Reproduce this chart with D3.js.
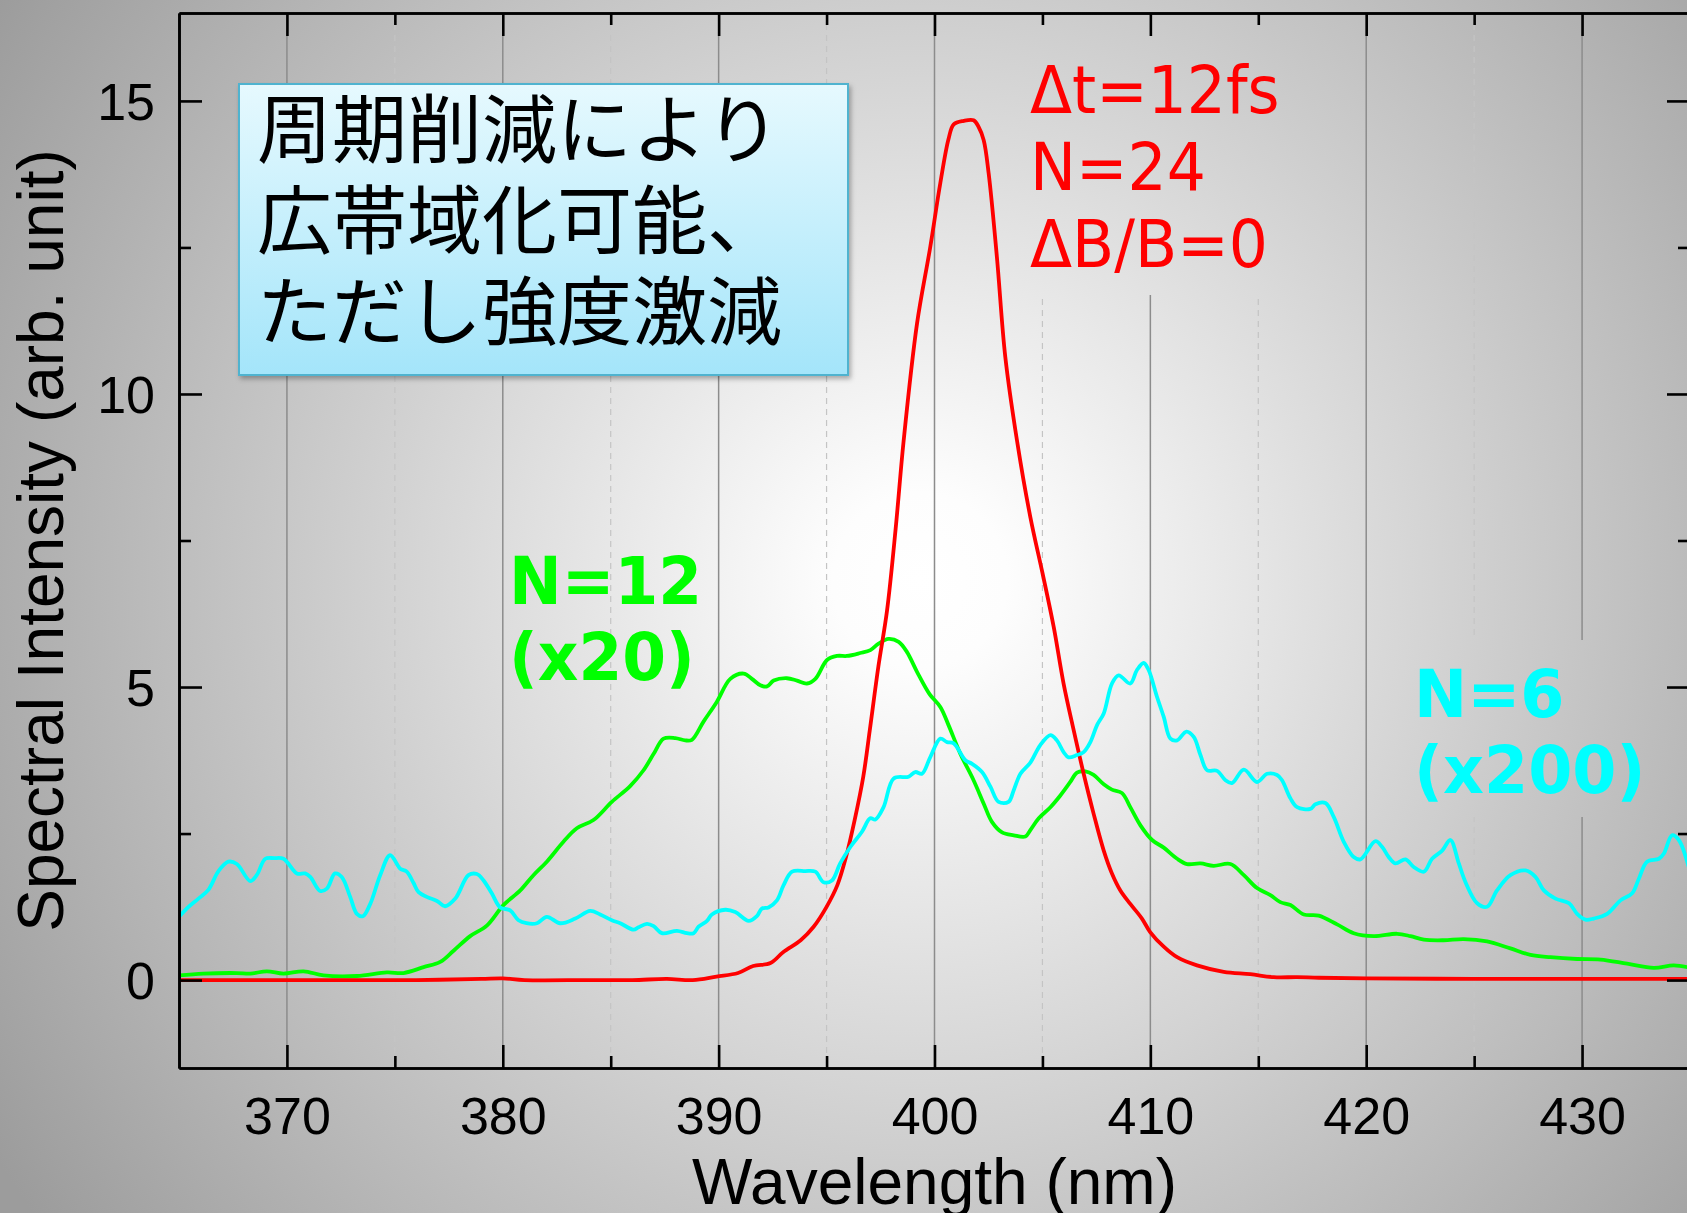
<!DOCTYPE html>
<html>
<head>
<meta charset="utf-8">
<script src="https://cdn.jsdelivr.net/npm/d3@7"></script>
<style>
  html, body { margin: 0; padding: 0; background: #a8a8a8; }
  svg { display: block; }
</style>
</head>
<body>
<svg id="chart" width="1687" height="1213"></svg>
<script>
// ---- data: spectra as [wavelength (nm), intensity (arb. unit)] ----
const spectrumN24 = [
  [365, 0.0], [367, 0.0], [370, 0.0], [373, 0.0], [376, 0.0], [379, 0.02], [380, 0.03],
  [381, 0.0], [384, 0.0], [386, 0.0], [387.6, 0.02], [388.8, 0.0], [389.9, 0.06],
  [390.9, 0.12], [391.6, 0.24], [392.4, 0.29], [393.0, 0.48], [393.8, 0.68], [394.4, 0.91],
  [395.0, 1.25], [395.5, 1.62], [395.9, 2.10], [396.3, 2.73], [396.7, 3.47], [397.0, 4.26],
  [397.4, 5.35], [397.8, 6.3], [398.2, 7.7], [398.57, 9.2], [399.19, 11.2], [399.8, 12.5],
  [400.27, 13.6], [400.65, 14.35], [400.89, 14.6], [401.35, 14.66], [401.81, 14.67],
  [402.04, 14.56], [402.28, 14.33], [402.51, 13.76], [402.89, 12.34], [403.28, 10.63],
  [403.82, 9.21], [404.44, 7.9], [405.0, 6.95], [405.52, 6.03], [405.98, 5.06],
  [406.45, 4.26], [406.91, 3.52], [407.37, 2.84], [407.84, 2.21], [408.22, 1.82],
  [408.61, 1.53], [409.07, 1.30], [409.61, 1.05], [409.99, 0.82], [410.62, 0.57],
  [411.24, 0.39], [412.16, 0.25], [413.4, 0.14], [414.63, 0.10], [415.71, 0.05],
  [416.8, 0.05], [417.8, 0.04], [420, 0.03], [425, 0.02], [430, 0.02], [435, 0.02]
];

const spectrumN12 = [
  [365, 0.08], [366.13, 0.11], [367.68, 0.12], [368.3, 0.11], [369.07, 0.15], [369.84, 0.11],
  [370.77, 0.15], [371.69, 0.08], [373.24, 0.07], [374.63, 0.13], [375.4, 0.12], [376.33, 0.22],
  [377.1, 0.31], [377.72, 0.50], [378.49, 0.75], [379.26, 0.93], [380.03, 1.28], [380.81, 1.53],
  [381.42, 1.79], [382.04, 2.02], [382.81, 2.36], [383.43, 2.59], [384.2, 2.73], [385.05, 3.04],
  [385.9, 3.31], [386.52, 3.58], [386.99, 3.86], [387.45, 4.12], [387.99, 4.13], [388.45, 4.09],
  [388.76, 4.10], [389.3, 4.41], [389.92, 4.75], [390.54, 5.14], [391.16, 5.23], [391.54, 5.14],
  [391.93, 5.03], [392.24, 5.01], [392.55, 5.11], [393.16, 5.15], [393.63, 5.11], [394.09, 5.06],
  [394.48, 5.14], [395.02, 5.46], [395.48, 5.53], [395.94, 5.53], [396.56, 5.58], [397.03, 5.63],
  [397.41, 5.74], [397.87, 5.82], [398.34, 5.77], [398.72, 5.60], [399.19, 5.26], [399.77, 4.88],
  [400.27, 4.66], [400.65, 4.35], [401.2, 3.86], [401.81, 3.41], [402.28, 3.01], [402.66, 2.70],
  [403.13, 2.52], [403.67, 2.47], [404.21, 2.45], [404.44, 2.56], [404.83, 2.76], [405.37, 2.95],
  [405.83, 3.15], [406.29, 3.38], [406.6, 3.54], [406.99, 3.56], [407.37, 3.50], [407.84, 3.34],
  [408.22, 3.25], [408.69, 3.19], [409.07, 2.95], [409.54, 2.64], [410.08, 2.39], [410.62, 2.26],
  [411.24, 2.07], [411.7, 1.98], [412.32, 1.99], [412.93, 1.95], [413.71, 1.98], [414.33, 1.79],
  [414.94, 1.57], [415.56, 1.45], [416.02, 1.33], [416.49, 1.28], [417.11, 1.12], [417.8, 1.10],
  [418.65, 0.95], [419.42, 0.80], [420.35, 0.75], [421.43, 0.79], [422.05, 0.75], [422.67, 0.69],
  [423.59, 0.68], [424.52, 0.70], [425.6, 0.66], [426.68, 0.54], [427.61, 0.43], [428.54, 0.39],
  [429.77, 0.36], [430.85, 0.35], [432.09, 0.28], [433.32, 0.21], [434.25, 0.25], [435, 0.21]
];

const spectrumN6 = [
  [365, 1.08], [365.44, 1.25], [365.9, 1.39], [366.36, 1.54], [366.83, 1.86], [367.29, 2.02],
  [367.68, 1.98], [368.3, 1.69], [368.6, 1.79], [369.0, 2.07], [369.4, 2.08], [369.84, 2.07],
  [370.46, 1.82], [370.84, 1.82], [371.08, 1.76], [371.54, 1.52], [371.85, 1.56], [372.23, 1.82],
  [372.54, 1.76], [372.93, 1.42], [373.24, 1.13], [373.52, 1.09], [373.86, 1.30], [374.32, 1.79],
  [374.78, 2.13], [375.25, 1.90], [375.55, 1.85], [375.86, 1.66], [376.1, 1.50], [376.48, 1.42],
  [376.95, 1.35], [377.33, 1.26], [377.8, 1.39], [378.41, 1.79], [378.8, 1.81], [379.11, 1.70],
  [379.49, 1.48], [379.88, 1.24], [380.34, 1.19], [380.73, 1.02], [381.1, 0.97], [381.58, 0.97],
  [382.04, 1.08], [382.66, 0.97], [383.36, 1.05], [384.05, 1.18], [384.51, 1.12], [385.05, 1.02],
  [385.44, 0.97], [386.06, 0.86], [386.29, 0.90], [386.68, 0.96], [386.99, 0.92], [387.37, 0.80],
  [388.07, 0.84], [388.53, 0.80], [388.84, 0.80], [389.07, 0.91], [389.46, 1.01], [389.69, 1.12],
  [390.31, 1.20], [390.77, 1.16], [391.39, 1.01], [391.77, 1.09], [392.0, 1.22], [392.31, 1.24],
  [392.7, 1.36], [393.01, 1.62], [393.4, 1.85], [394.01, 1.86], [394.48, 1.85], [394.86, 1.67],
  [395.25, 1.70], [395.63, 1.99], [396.1, 2.27], [396.64, 2.53], [397.02, 2.76], [397.26, 2.74],
  [397.64, 2.95], [398.11, 3.44], [398.8, 3.47], [399.11, 3.55], [399.42, 3.52], [399.8, 3.80],
  [400.27, 4.12], [400.58, 4.06], [400.89, 4.04], [401.43, 3.75], [401.74, 3.69], [402.2, 3.55],
  [402.59, 3.30], [402.97, 3.04], [403.43, 3.04], [403.67, 3.24], [403.98, 3.52], [404.44, 3.71],
  [404.9, 4.01], [405.37, 4.18], [405.67, 4.09], [405.98, 3.89], [406.21, 3.80], [406.6, 3.84],
  [406.91, 3.89], [407.22, 4.06], [407.53, 4.35], [407.84, 4.55], [408.22, 5.06], [408.53, 5.20],
  [409.07, 5.06], [409.38, 5.29], [409.69, 5.41], [409.92, 5.29], [410.31, 4.83], [410.62, 4.49],
  [410.93, 4.12], [411.24, 4.09], [411.67, 4.24], [412.01, 4.15], [412.32, 3.84], [412.63, 3.58],
  [413.09, 3.57], [413.48, 3.41], [413.78, 3.36], [414.33, 3.59], [414.94, 3.38], [415.41, 3.52],
  [415.87, 3.50], [416.1, 3.41], [416.49, 3.10], [416.8, 2.95], [417.41, 2.92], [417.65, 3.00],
  [418.11, 3.02], [418.5, 2.78], [418.96, 2.36], [419.42, 2.10], [419.73, 2.06], [420.43, 2.37],
  [420.74, 2.27], [421.04, 2.10], [421.35, 1.99], [421.82, 2.06], [422.2, 1.93], [422.67, 1.85],
  [423.05, 2.07], [423.52, 2.21], [423.9, 2.39], [424.29, 1.99], [424.6, 1.67], [425.14, 1.31],
  [425.6, 1.25], [426.06, 1.53], [426.68, 1.79], [427.38, 1.87], [427.84, 1.76], [428.23, 1.53],
  [428.77, 1.39], [429.4, 1.31], [429.77, 1.13], [430.16, 1.03], [430.54, 1.05], [431.16, 1.13],
  [431.78, 1.36], [432.32, 1.48], [432.63, 1.73], [433.01, 2.02], [433.56, 2.07], [433.79, 2.16],
  [434.17, 2.47], [434.48, 2.39], [435, 1.85]
];

// ---- axes: domains and tick values ----
const xDomain = [365, 435];
const yDomain = [-1.5, 16.5];
const xMajorTicks = [370, 380, 390, 400, 410, 420, 430];
const xMinorTicks = [375, 385, 395, 405, 415, 425];
const yMajorTicks = [0, 5, 10, 15];
const yMinorTicks = [2.5, 7.5, 12.5];

// ---- annotation text ----
const noteLines = ["周期削減により", "広帯域化可能、", "ただし強度激減"];
const labelN24 = ["Δt=12fs", "N=24", "ΔB/B=0"];
const labelN12 = ["N=12", "(x20)"];
const labelN6 = ["N=6", "(x200)"];
const xTitle = "Wavelength (nm)";
const yTitle = "Spectral Intensity (arb. unit)";

// ---- layout ----
const W = 1687, H = 1213;
const plot = { left: 179, right: 1690, top: 13, bottom: 1068 };

const svg = d3.select("#chart");
const defs = svg.append("defs");

// page background: soft radial gray gradient
const bg = defs.append("radialGradient").attr("id", "bgGrad")
  .attr("gradientUnits", "userSpaceOnUse")
  .attr("cx", 920).attr("cy", 580).attr("r", 1090);
bg.append("stop").attr("offset", 0).attr("stop-color", "#ffffff");
bg.append("stop").attr("offset", 0.08).attr("stop-color", "#fdfdfd");
bg.append("stop").attr("offset", 1).attr("stop-color", "#9c9c9c");

// note box fill
const boxGrad = defs.append("linearGradient").attr("id", "boxGrad")
  .attr("x1", 0).attr("y1", 0).attr("x2", 0).attr("y2", 1);
boxGrad.append("stop").attr("offset", 0).attr("stop-color", "#e6f9fe");
boxGrad.append("stop").attr("offset", 1).attr("stop-color", "#a4e5fa");

const shadow = defs.append("filter").attr("id", "boxShadow")
  .attr("x", "-5%").attr("y", "-5%").attr("width", "115%").attr("height", "120%");
shadow.append("feDropShadow").attr("dx", 2).attr("dy", 3).attr("stdDeviation", 2.5)
  .attr("flood-color", "#000").attr("flood-opacity", 0.3);

defs.append("clipPath").attr("id", "plotClip").append("rect")
  .attr("x", plot.left).attr("y", plot.top)
  .attr("width", plot.right - plot.left).attr("height", plot.bottom - plot.top);

svg.append("rect").attr("width", W).attr("height", H).attr("fill", "url(#bgGrad)");

const x = d3.scaleLinear().domain(xDomain).range([plot.left, plot.right]);
const y = d3.scaleLinear().domain(yDomain).range([plot.bottom, plot.top]);

// ---- grid ----
const grid = svg.append("g");
grid.selectAll("line.major").data(xMajorTicks).join("line")
  .attr("class", "major")
  .attr("x1", d => x(d)).attr("x2", d => x(d))
  .attr("y1", plot.top).attr("y2", plot.bottom)
  .attr("stroke", "#8c8c8c").attr("stroke-width", 1.5);
grid.selectAll("line.minor").data(xMinorTicks).join("line")
  .attr("class", "minor")
  .attr("x1", d => x(d)).attr("x2", d => x(d))
  .attr("y1", plot.top).attr("y2", plot.bottom)
  .attr("stroke", "#c4c4c4").attr("stroke-width", 1.2)
  .attr("stroke-dasharray", "6,5");

// labels sit on a patch of the page background so grid lines stop behind them
const patches = svg.append("g");
patches.append("rect").attr("x", 1026).attr("y", plot.top + 2).attr("width", 262).attr("height", 280)
  .attr("fill", "url(#bgGrad)");
patches.append("rect").attr("x", 1408).attr("y", 640).attr("width", 245).attr("height", 177)
  .attr("fill", "url(#bgGrad)");

// ---- spectra ----
const line = d3.line().x(d => x(d[0])).y(d => y(d[1])).curve(d3.curveCatmullRom.alpha(0.5));
const curves = svg.append("g").attr("clip-path", "url(#plotClip)")
  .attr("fill", "none").attr("stroke-width", 3.8)
  .attr("stroke-linejoin", "round").attr("stroke-linecap", "round");
curves.append("path").datum(spectrumN12).attr("d", line).attr("stroke", "#00ff00");
curves.append("path").datum(spectrumN24).attr("d", line).attr("stroke", "#ff0000");
curves.append("path").datum(spectrumN6).attr("d", line).attr("stroke", "#00ffff");

// ---- axes (ticks point inward on all four sides) ----
const tickFont = "'Liberation Sans', Arial, sans-serif";
function styleAxis(g) {
  g.select(".domain").attr("stroke", "#000").attr("stroke-width", 2.6);
  g.selectAll(".tick line").attr("stroke", "#000").attr("stroke-width", 2.6);
  g.selectAll(".tick text").attr("fill", "#000")
    .attr("font-family", tickFont).attr("font-size", 52);
}

svg.append("g").attr("transform", `translate(0,${plot.bottom})`)
  .call(d3.axisBottom(x).tickValues(xMajorTicks).tickSize(-23).tickSizeOuter(0)
    .tickPadding(29).tickFormat(d3.format("d")))
  .call(styleAxis);
svg.append("g").attr("transform", `translate(0,${plot.bottom})`)
  .call(d3.axisBottom(x).tickValues(xMinorTicks).tickSize(-12).tickSizeOuter(0).tickFormat(""))
  .call(styleAxis);

svg.append("g").attr("transform", `translate(0,${plot.top})`)
  .call(d3.axisTop(x).tickValues(xMajorTicks).tickSize(-23).tickSizeOuter(0).tickFormat(""))
  .call(styleAxis);
svg.append("g").attr("transform", `translate(0,${plot.top})`)
  .call(d3.axisTop(x).tickValues(xMinorTicks).tickSize(-12).tickSizeOuter(0).tickFormat(""))
  .call(styleAxis);

svg.append("g").attr("transform", `translate(${plot.left},0)`)
  .call(d3.axisLeft(y).tickValues(yMajorTicks).tickSize(-23).tickSizeOuter(0)
    .tickPadding(24).tickFormat(d3.format("d")))
  .call(styleAxis)
  .call(g => g.selectAll(".tick text").attr("dy", "0.35em"));
svg.append("g").attr("transform", `translate(${plot.left},0)`)
  .call(d3.axisLeft(y).tickValues(yMinorTicks).tickSize(-12).tickSizeOuter(0).tickFormat(""))
  .call(styleAxis);

svg.append("g").attr("transform", `translate(${plot.right},0)`)
  .call(d3.axisRight(y).tickValues(yMajorTicks).tickSize(-23).tickSizeOuter(0).tickFormat(""))
  .call(styleAxis);
svg.append("g").attr("transform", `translate(${plot.right},0)`)
  .call(d3.axisRight(y).tickValues(yMinorTicks).tickSize(-12).tickSizeOuter(0).tickFormat(""))
  .call(styleAxis);

// ---- axis titles ----
svg.append("text")
  .attr("x", (plot.left + plot.right) / 2).attr("y", 1204)
  .attr("text-anchor", "middle")
  .attr("font-family", tickFont).attr("font-size", 64).attr("fill", "#000")
  .text(xTitle);
svg.append("text")
  .attr("transform", `translate(63,${(plot.top + plot.bottom) / 2}) rotate(-90)`)
  .attr("text-anchor", "middle")
  .attr("font-family", tickFont).attr("font-size", 64).attr("fill", "#000")
  .text(yTitle);

// ---- note box ----
const note = svg.append("g");
note.append("rect")
  .attr("x", 239).attr("y", 84).attr("width", 609).attr("height", 291)
  .attr("fill", "url(#boxGrad)").attr("stroke", "#4fb3cf").attr("stroke-width", 2)
  .attr("filter", "url(#boxShadow)");
note.append("text")
  .attr("font-family", "'Noto Sans CJK JP', sans-serif").attr("font-size", 75)
  .attr("fill", "#000")
  .selectAll("tspan").data(noteLines).join("tspan")
  .attr("x", 257).attr("y", (d, i) => 157 + i * 91)
  .text(d => d);

// ---- series labels (one multi-line text each) ----
function label(lines, x0, y0, step, color, weight, size, sy) {
  svg.append("text")
    .attr("transform", `translate(${x0},${y0}) scale(1,${sy})`)
    .attr("font-family", "'DejaVu Sans', Verdana, sans-serif")
    .attr("font-weight", weight).attr("font-size", size)
    .attr("fill", color)
    .selectAll("tspan").data(lines).join("tspan")
    .attr("x", 0).attr("y", (d, i) => i * step / sy)
    .text(d => d);
}
label(labelN24, 1030, 113, 77, "#ff0000", "normal", 61.5, 1.06);
label(labelN12, 509, 604, 76, "#00ff00", "bold", 63, 1.05);
label(labelN6, 1414, 717, 76, "#00ffff", "bold", 63.5, 1.04);
</script>
</body>
</html>
